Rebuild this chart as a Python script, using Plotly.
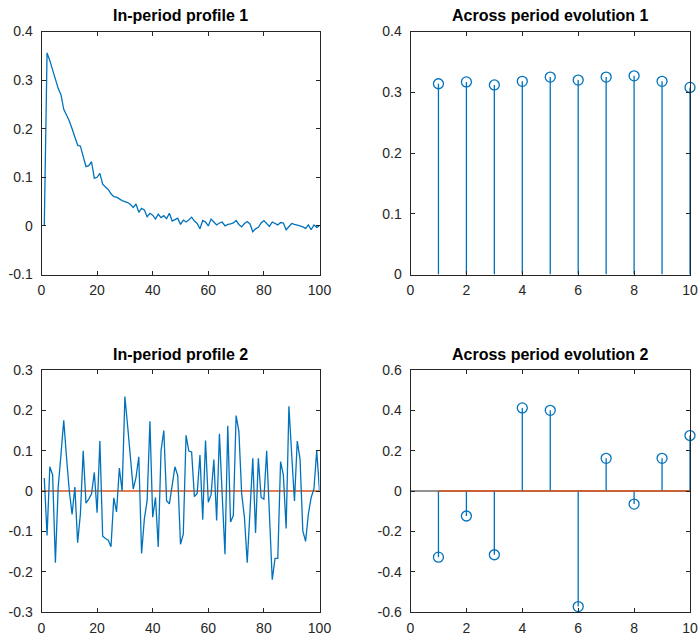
import plotly.graph_objects as go

# ---------------- data ----------------
profile1 = [0.0, 0.356, 0.340, 0.322, 0.300, 0.283, 0.270, 0.240, 0.228, 0.216,
            0.200, 0.185, 0.166, 0.164, 0.145, 0.122, 0.124, 0.132, 0.098, 0.100,
            0.108, 0.086, 0.080, 0.075, 0.066, 0.060, 0.059, 0.055, 0.052, 0.050,
            0.048, 0.044, 0.038, 0.045, 0.028, 0.036, 0.033, 0.019, 0.026, 0.022,
            0.014, 0.024, 0.017, 0.021, 0.015, 0.026, 0.010, 0.013, 0.016, 0.003,
            0.012, 0.008, 0.012, 0.018, 0.010, 0.005, -0.006, 0.011, 0.008, 0.000,
            0.014, 0.008, 0.002, 0.006, 0.008, 0.000, 0.003, 0.004, 0.006, 0.011,
            0.003, -0.002, 0.005, 0.009, 0.004, -0.012, -0.006, -0.003, 0.006, 0.011,
            0.004, -0.001, 0.008, 0.005, 0.002, 0.007, 0.006, -0.008, -0.002, 0.005,
            0.003, 0.002, 0.000, -0.002, -0.005, 0.002, -0.008, 0.002, -0.003, 0.000]

profile2 = [0.032, -0.110, 0.060, 0.040, -0.178, 0.009, 0.090, 0.175, 0.083, 0.000,
            -0.058, 0.010, -0.128, -0.056, 0.100, -0.030, -0.020, -0.007, 0.046, -0.054,
            0.124, -0.112, -0.118, -0.122, -0.138, -0.017, -0.052, 0.057, 0.000, 0.234,
            0.160, 0.085, 0.005, 0.034, 0.085, -0.155, -0.069, -0.024, 0.173, -0.065,
            -0.016, -0.139, 0.100, 0.150, -0.024, -0.032, 0.013, 0.060, 0.038, -0.132,
            -0.107, 0.138, 0.099, 0.097, -0.014, -0.006, 0.089, -0.071, 0.125, -0.028,
            -0.009, 0.078, -0.073, 0.142, -0.010, -0.157, 0.162, -0.077, -0.061, 0.187,
            0.148, -0.007, -0.065, -0.178, -0.050, 0.081, -0.104, 0.081, -0.016, -0.020,
            0.100, -0.060, -0.220, -0.167, -0.167, 0.073, 0.040, -0.093, 0.210, 0.090,
            -0.025, 0.124, 0.079, -0.099, -0.125, -0.057, -0.016, 0.005, 0.100, 0.000]

periods = [1, 2, 3, 4, 5, 6, 7, 8, 9, 10]
evolution1 = [0.314, 0.317, 0.312, 0.318, 0.325, 0.320, 0.325, 0.327, 0.318, 0.308]
evolution2 = [-0.328, -0.124, -0.316, 0.412, 0.400, -0.573, 0.162, -0.065, 0.162, 0.275]

titles = ["In-period profile 1", "Across period evolution 1",
          "In-period profile 2", "Across period evolution 2"]

x_ticks_profile = [0, 20, 40, 60, 80, 100]
x_ticks_period = [0, 2, 4, 6, 8, 10]
y_ticks_tl = [-0.1, 0, 0.1, 0.2, 0.3, 0.4]
y_text_tl = ["-0.1", "0", "0.1", "0.2", "0.3", "0.4"]
y_ticks_tr = [0, 0.1, 0.2, 0.3, 0.4]
y_text_tr = ["0", "0.1", "0.2", "0.3", "0.4"]
y_ticks_bl = [-0.3, -0.2, -0.1, 0, 0.1, 0.2, 0.3]
y_text_bl = ["-0.3", "-0.2", "-0.1", "0", "0.1", "0.2", "0.3"]
y_ticks_br = [-0.6, -0.4, -0.2, 0, 0.2, 0.4, 0.6]
y_text_br = ["-0.6", "-0.4", "-0.2", "0", "0.2", "0.4", "0.6"]

# ---------------- figure ----------------
BLUE = "#0072BD"
ORANGE = "#D95319"
AX = "#262626"
FONT = "Liberation Sans, Arial, Helvetica, sans-serif"

W, H = 699, 639
xdomL = [41.5 / W, 319.5 / W]
xdomR = [410.5 / W, 690 / W]
ydomT = [1 - 274.5 / H, 1 - 31.5 / H]
ydomB = [1 - 612 / H, 1 - 370 / H]

fig = go.Figure()

x_profile = list(range(1, len(profile1) + 1))

# top-left
fig.add_trace(go.Scatter(x=x_profile, y=profile1, mode="lines",
                         line=dict(color=BLUE, width=1.3), xaxis="x", yaxis="y"))

# top-right stems
stem_x, stem_y = [], []
for p, v in zip(periods, evolution1):
    stem_x += [p, p, None]
    stem_y += [0, v, None]
fig.add_trace(go.Scatter(x=stem_x, y=stem_y, mode="lines",
                         line=dict(color=BLUE, width=1.3), xaxis="x2", yaxis="y2"))
fig.add_trace(go.Scatter(x=periods, y=evolution1, mode="markers", cliponaxis=False,
                         marker=dict(symbol="circle-open", size=10, color=BLUE,
                                     line=dict(width=1.3, color=BLUE)),
                         xaxis="x2", yaxis="y2"))

# bottom-left
fig.add_trace(go.Scatter(x=[0, 100], y=[0, 0], mode="lines",
                         line=dict(color=ORANGE, width=1.4), xaxis="x3", yaxis="y3"))
fig.add_trace(go.Scatter(x=x_profile, y=profile2, mode="lines",
                         line=dict(color=BLUE, width=1.3), xaxis="x3", yaxis="y3"))

# bottom-right stems
fig.add_trace(go.Scatter(x=[0, 10], y=[0, 0], mode="lines",
                         line=dict(color=AX, width=1.2), xaxis="x4", yaxis="y4"))
stem_x, stem_y = [], []
for p, v in zip(periods, evolution2):
    stem_x += [p, p, None]
    stem_y += [0, v, None]
fig.add_trace(go.Scatter(x=stem_x, y=stem_y, mode="lines",
                         line=dict(color=BLUE, width=1.3), xaxis="x4", yaxis="y4"))
fig.add_trace(go.Scatter(x=[periods[0], periods[-1]], y=[0, 0], mode="lines",
                         line=dict(color=ORANGE, width=1.4), xaxis="x4", yaxis="y4"))
fig.add_trace(go.Scatter(x=periods, y=evolution2, mode="markers", cliponaxis=False,
                         marker=dict(symbol="circle-open", size=10, color=BLUE,
                                     line=dict(width=1.3, color=BLUE)),
                         xaxis="x4", yaxis="y4"))


def axis(domain, anchor, rng, ticks, text=None, standoff=0):
    d = dict(domain=domain, anchor=anchor, range=rng, tickmode="array",
             tickvals=ticks, showgrid=False, zeroline=False, automargin=False,
             showline=True, linecolor=AX, linewidth=1, mirror="ticks",
             ticks="inside", ticklen=4, tickcolor=AX, tickwidth=1,
             ticklabelstandoff=standoff,
             tickfont=dict(family=FONT, size=14, color=AX))
    if text is not None:
        d["ticktext"] = text
    return d


fig.update_layout(
    width=W, height=H, showlegend=False,
    margin=dict(l=0, r=0, t=0, b=0, autoexpand=False),
    paper_bgcolor="white", plot_bgcolor="white",
    xaxis=axis(xdomL, "y", [0, 100], x_ticks_profile, standoff=3),
    yaxis=axis(ydomT, "x", [-0.1, 0.4], y_ticks_tl, y_text_tl, standoff=5),
    xaxis2=axis(xdomR, "y2", [0, 10], x_ticks_period, standoff=3),
    yaxis2=axis(ydomT, "x2", [0, 0.4], y_ticks_tr, y_text_tr, standoff=5),
    xaxis3=axis(xdomL, "y3", [0, 100], x_ticks_profile, standoff=3),
    yaxis3=axis(ydomB, "x3", [-0.3, 0.3], y_ticks_bl, y_text_bl, standoff=5),
    xaxis4=axis(xdomR, "y4", [0, 10], x_ticks_period, standoff=3),
    yaxis4=axis(ydomB, "x4", [-0.6, 0.6], y_ticks_br, y_text_br, standoff=5),
)

centers = [(sum(xdomL) / 2, ydomT[1], 6), (sum(xdomR) / 2, ydomT[1], 6),
           (sum(xdomL) / 2, ydomB[1], 5), (sum(xdomR) / 2, ydomB[1], 5)]
for t, (cx, cy, ys) in zip(titles, centers):
    fig.add_annotation(text="<b>%s</b>" % t, x=cx, y=cy, xref="paper", yref="paper",
                       xanchor="center", yanchor="bottom", yshift=ys, showarrow=False,
                       font=dict(family=FONT, size=16, color="black"))

fig.write_html("out.html",
               config={"displayModeBar": False},
               post_script="document.body.style.margin='0';"
                           "document.body.style.overflow='hidden';")
